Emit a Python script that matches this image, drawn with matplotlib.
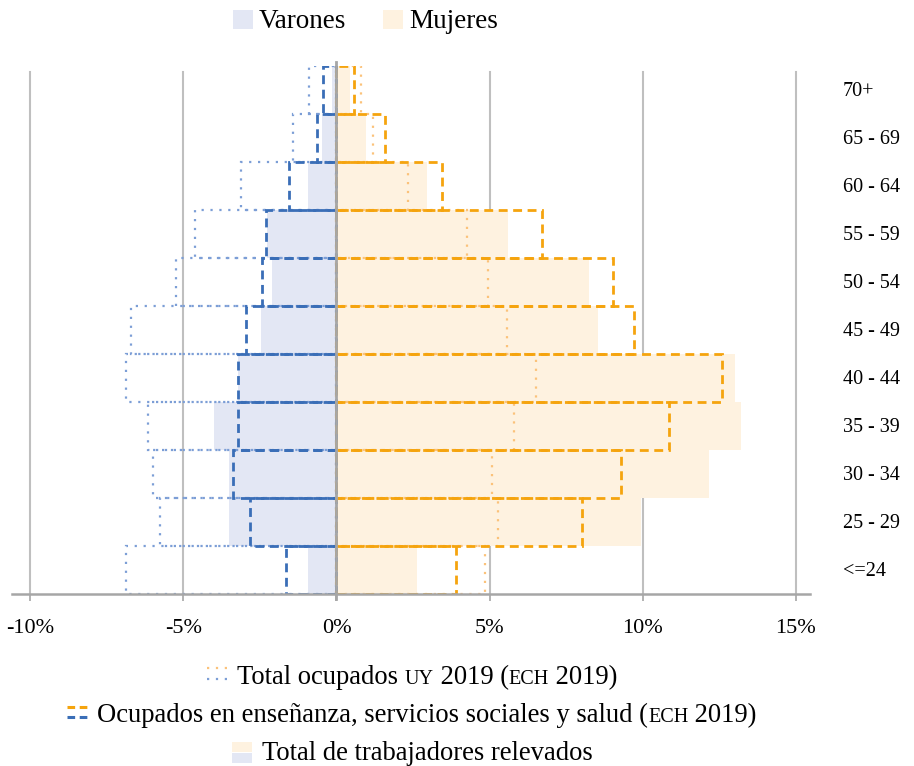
import matplotlib
matplotlib.use('Agg')
import matplotlib.pyplot as plt
from matplotlib.patches import Rectangle
from matplotlib.lines import Line2D
import matplotlib.transforms as mtransforms

# ---------------- data ----------------
categories = ['<=24', '25 - 29', '30 - 34', '35 - 39', '40 - 44', '45 - 49',
              '50 - 54', '55 - 59', '60 - 64', '65 - 69', '70+']
relevados_varones = [-0.92, -3.51, -3.51, -4.00, -3.23, -2.47, -2.09, -2.28, -0.94, -0.48, -0.16]
relevados_mujeres = [2.62, 9.95, 12.17, 13.22, 13.02, 8.54, 8.25, 5.59, 2.95, 0.96, 0.44]
ensenanza_varones = [-1.65, -2.83, -3.39, -3.23, -3.23, -2.97, -2.42, -2.30, -1.55, -0.63, -0.43]
ensenanza_mujeres = [3.90, 8.01, 9.29, 10.86, 12.59, 9.73, 9.04, 6.73, 3.44, 1.58, 0.57]
total_varones = [-6.88, -5.76, -6.00, -6.17, -6.88, -6.70, -5.23, -4.62, -3.12, -1.41, -0.90]
total_mujeres = [4.85, 5.27, 5.09, 5.81, 6.51, 5.58, 4.96, 4.27, 2.35, 1.18, 0.79]
xticks = [-10, -5, 0, 5, 10, 15]
xtick_labels = ['-10%', '-5%', '0%', '5%', '10%', '15%']

# ---------------- style ----------------
FONT = ['Liberation Serif', 'DejaVu Serif']
plt.rcParams['font.family'] = FONT
c_vfill = '#E3E7F4'
c_mfill = '#FEF2E0'
c_vdash = '#3A6EB7'
c_mdash = '#F5A40E'
c_vdot = '#7C9ED6'
c_mdot = '#FBC27A'
c_grid = '#BFBFBF'
c_zero = '#A6A6A6'

W, H = 914, 766
fig = plt.figure(figsize=(W / 100, H / 100), dpi=100)

def fx(px):
    return px / W

def fy(py):
    return 1 - py / H

ax_left, ax_right, ax_top, ax_bot = 12, 810, 66, 594
ax = fig.add_axes([fx(ax_left), fy(ax_bot), fx(ax_right - ax_left), (ax_bot - ax_top) / H])

y = list(range(len(categories)))

for g in [-10, -5, 5, 10, 15]:
    ax.axvline(g, ymin=0, ymax=0.988, color=c_grid, lw=1.5, zorder=0)

ax.barh(y, relevados_varones, height=1.0, color=c_vfill, zorder=1, linewidth=0)
ax.barh(y, relevados_mujeres, height=1.0, color=c_mfill, zorder=1, linewidth=0)

dot = (0, (1, 3))
dash = (0, (3.2, 2))
ax.barh(y, total_varones, height=1.0, fill=False, edgecolor=c_vdot, lw=1.6,
        linestyle=dot, zorder=2)
ax.barh(y, total_mujeres, height=1.0, fill=False, edgecolor=c_mdot, lw=1.6,
        linestyle=dot, zorder=2)
ax.barh(y, ensenanza_varones, height=1.0, fill=False, edgecolor=c_vdash, lw=2.0,
        linestyle=dash, zorder=3)
ax.barh(y, ensenanza_mujeres, height=1.0, fill=False, edgecolor=c_mdash, lw=2.0,
        linestyle=dash, zorder=3)

ax.axvline(0, ymin=-0.01, ymax=1.007, color=c_zero, lw=2, zorder=4, clip_on=False)

ax.set_xlim(-10.6, 15.47)
ax.set_ylim(-0.5, len(categories) - 0.5)
for s in ['left', 'right', 'top']:
    ax.spines[s].set_visible(False)
ax.spines['bottom'].set_color(c_zero)
ax.spines['bottom'].set_linewidth(1.8)
ax.spines['bottom'].set_zorder(5)
ax.set_yticks([])
ax.set_xticks(xticks)
ax.set_xticklabels(xtick_labels, fontsize=16)
ax.tick_params(axis='x', direction='out', length=5, width=1.2, color=c_zero, pad=13)
ax.set_facecolor('none')

# category labels on the right
trans = mtransforms.blended_transform_factory(fig.transFigure, ax.transData)
for i, c in enumerate(categories):
    fig.text(fx(843), i - 0.03, c, transform=trans, ha='left', va='center', fontsize=14.5)

# ---------------- top legend ----------------
fig.add_artist(Rectangle((fx(233), fy(29)), fx(20), 19 / H, transform=fig.transFigure,
                         facecolor=c_vfill, edgecolor='none'))
fig.text(fx(259), fy(21), 'Varones', ha='left', va='center', fontsize=19.5)
fig.add_artist(Rectangle((fx(383), fy(29)), fx(20), 19 / H, transform=fig.transFigure,
                         facecolor=c_mfill, edgecolor='none'))
fig.text(fx(409), fy(21), 'Mujeres', ha='left', va='center', fontsize=19.5)

# ---------------- bottom legend ----------------
renderer = fig.canvas.get_renderer()
BIG, SMALL = 19.2, 14.5
CENTER = 412

def seg_line(baseline_px, segments, marker):
    texts = []
    total = 0
    for s, size in segments:
        t = fig.text(0, fy(baseline_px), s, fontsize=size, ha='left', va='baseline')
        w = t.get_window_extent(renderer).width
        texts.append((t, w))
        total += w
    mw, gap = 22, 8
    start = CENTER - (mw + gap + total) / 2
    marker(start, mw)
    x = start + mw + gap
    for t, w in texts:
        t.set_x(fx(x))
        x += w

def mk_lines(style, lw, c_top, c_bot, y_top, y_bot):
    def f(x0, mw):
        fig.add_artist(Line2D([fx(x0), fx(x0 + mw)], [fy(y_top), fy(y_top)],
                              transform=fig.transFigure, color=c_top, lw=lw, linestyle=style))
        fig.add_artist(Line2D([fx(x0), fx(x0 + mw)], [fy(y_bot), fy(y_bot)],
                              transform=fig.transFigure, color=c_bot, lw=lw, linestyle=style))
    return f

def mk_box():
    def f(x0, mw):
        fig.add_artist(Rectangle((fx(x0), fy(752)), fx(mw - 2), 10 / H, transform=fig.transFigure,
                                 facecolor=c_mfill, edgecolor='none'))
        fig.add_artist(Rectangle((fx(x0), fy(763)), fx(mw - 2), 10 / H, transform=fig.transFigure,
                                 facecolor=c_vfill, edgecolor='none'))
    return f

seg_line(684, [('Total ocupados ', BIG), ('UY', SMALL), (' 2019 (', BIG), ('ECH', SMALL), (' 2019)', BIG)],
         mk_lines(dot, 1.6, c_mdot, c_vdot, 668, 679))
seg_line(722, [('Ocupados en enseñanza, servicios sociales y salud (', BIG), ('ECH', SMALL), (' 2019)', BIG)],
         mk_lines((0, (2.5, 1.5)), 2.2, c_mdash, c_vdash, 707, 717))
seg_line(760, [('Total de trabajadores relevados', BIG)], mk_box())

fig.savefig('out.png', dpi=100)
